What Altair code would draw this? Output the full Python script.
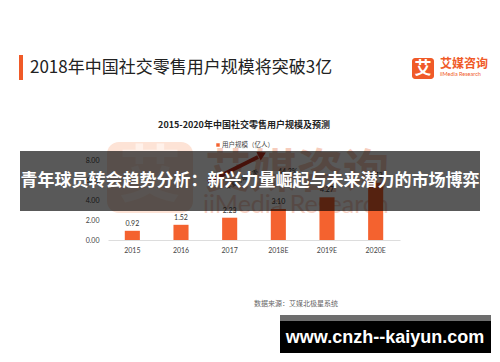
import altair as alt
import pandas as pd

years = ["2015", "2016", "2017", "2018E", "2019E", "2020E"]
users = [0.92, 1.52, 2.23, 3.10, 4.27, 5.73]
labels = ["0.92", "1.52", "2.23", "3.10", "4.27", "5.73"]
y_ticks = [0, 2, 4, 6, 8]

page_title = "2018年中国社交零售用户规模将突破3亿"
chart_title = "2015-2020年中国社交零售用户规模及预测"
legend_label = "用户规模（亿人）"
source_text = "数据来源：艾媒北极星系统"
overlay_text = "青年球员转会趋势分析：新兴力量崛起与未来潜力的市场博弈"
url_text = "www.cnzh--kaiyun.com"
cagr_text = "44.2%"

df = pd.DataFrame({"year": years, "v": users, "lab": labels})
one = pd.DataFrame({"a": [0]})

CJK = "Noto Sans CJK SC"
ORANGE = "#f4622f"

W, H = 292, 80

xenc = alt.X("year:N", sort=years,
             scale=alt.Scale(paddingInner=0.69, paddingOuter=0.345),
             axis=alt.Axis(labelAngle=0, domainColor="#dddddd", ticks=False,
                           labelPadding=6, title=None, labelFontSize=7,
                           labelColor="#444444", labelFont="Lato"))
yenc = alt.Y("v:Q", scale=alt.Scale(domain=[0, 8]),
             axis=alt.Axis(values=y_ticks, format=".2f", domain=False, ticks=False,
                           grid=False, labelPadding=9, labelFontSize=7, labelOverlap=False,
                           labelColor="#444444", labelFont="Lato", title=None))


def deco_rect(x, x2, y, y2, color, opacity=1.0, radius=0):
    return alt.Chart(one).mark_rect(color=color, opacity=opacity, cornerRadius=radius).encode(
        x=alt.value(x), x2=alt.value(x2), y=alt.value(y), y2=alt.value(y2))


def deco_text(txt, x, y, size, color, weight="normal", align="left", font=CJK, angle=0):
    return alt.Chart(one).mark_text(text=txt, fontSize=size, color=color, fontWeight=weight,
                                    align=align, baseline="middle", font=font,
                                    angle=angle).encode(x=alt.value(x), y=alt.value(y))


# watermark
wm_box = deco_rect(-1, 85, -18, 53, "#fde3d6", radius=12)
wm_glyph = deco_text("艾", 42, 18, 62, "#fff1ea", weight="bold", align="center")
wm_name = deco_text("艾媒咨询", 97, 13, 46, "#f6cdbd", weight="bold")
wm_en = deco_text("iiMedia Research", 95, 45, 25, "#f7d2c5", font="Lato")

bars = alt.Chart(df).mark_bar(color=ORANGE).encode(x=xenc, y=yenc)
vals = alt.Chart(df).mark_text(fontSize=7, color="#333333", baseline="bottom", dy=-4,
                               font="Lato").encode(x=xenc, y=yenc, text="lab:N")

# growth arrow
arrow_line = alt.Chart(one).mark_rule(color="#c8321f", strokeWidth=4).encode(
    x=alt.value(100), x2=alt.value(150), y=alt.value(22), y2=alt.value(-3))
arrow_head = alt.Chart(one).mark_point(shape="triangle", filled=True, color="#c8321f",
                                       size=90, angle=63, opacity=1).encode(
    x=alt.value(153), y=alt.value(-5))
cagr = deco_text(cagr_text, 170, 12, 7, "#333333", font="Lato")
cagr_note = deco_text("年复合增长率", 118, 28, 6, "#333333", angle=332)

# headings
title_bar = deco_rect(-89, -85, -105, -80, "#f05a28")
title = deco_text(page_title, -78, -92, 17, "#222222")
logo_box = deco_rect(304, 326, -102, -81, "#f05a28", radius=3)
logo_glyph = deco_text("艾", 315, -91.5, 17, "white", weight="bold", align="center")
logo_name = deco_text("艾媒咨询", 332, -96, 12, "#f05a28", weight="bold")
logo_en = deco_text("iiMedia Research", 332, -86, 5.5, "#f05a28", font="Lato")
sub = deco_text(chart_title, 136, -35, 9, "#222222", weight="bold", align="center")
leg_sq = alt.Chart(one).mark_square(color=ORANGE, size=12, opacity=1).encode(
    x=alt.value(110), y=alt.value(-15))
leg_txt = deco_text(legend_label, 114, -15, 6.5, "#444444")
source = deco_text(source_text, 146, 144, 7, "#666666")

# overlays
band = deco_rect(-88, 372, -9, 51, "black", opacity=0.65)
band_txt = deco_text(overlay_text, 142, 21, 17, "white", weight="bold", align="center")
url_strip = deco_rect(172, 383, 155, 161, "#6e6e6e")
url_box = deco_rect(172, 383, 161, 193, "black")
url_txt = deco_text(url_text, 277, 178, 18, "white", weight="bold", align="center",
                    font="Liberation Sans")

chart = alt.layer(
    wm_box, wm_glyph, wm_name, wm_en,
    bars, vals, arrow_line, arrow_head, cagr, cagr_note,
    title_bar, title, logo_box, logo_glyph, logo_name, logo_en, sub, leg_sq, leg_txt, source,
    band, band_txt, url_strip, url_box, url_txt,
).properties(
    width=W, height=H,
    autosize=alt.AutoSizeParams(type="none"),
    padding={"left": 100, "top": 152, "right": 92, "bottom": 114},
    background="white",
).configure_view(stroke=None)

chart.save("out.html", embed_options={"renderer": "svg", "actions": False})
